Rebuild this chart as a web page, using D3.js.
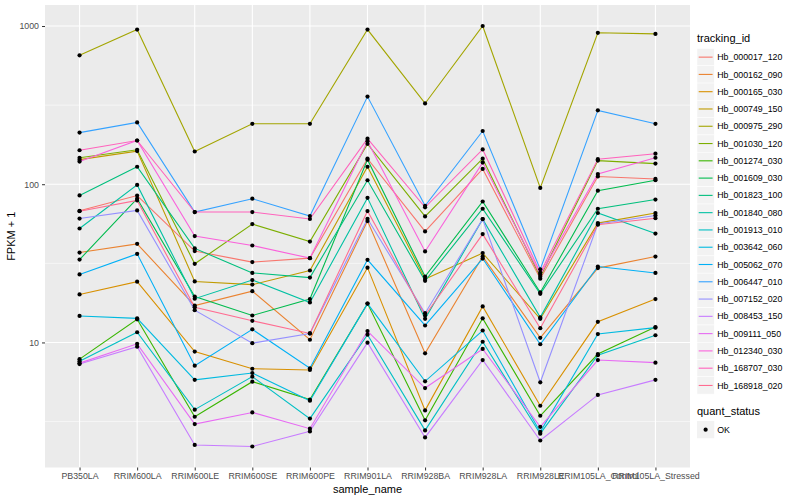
<!DOCTYPE html>
<html>
<head>
    <meta charset="UTF-8">
    <script src="https://d3js.org/d3.v7.min.js"></script>
    <style>
        body { margin: 0; background: #fff; }
        svg text { font-family: "Liberation Sans", Arial, sans-serif; }
    </style>
</head>
<body>
    <svg></svg>
    <script>
        let width = 800, height = 500;

        // categories along x
        const samples = ["PB350LA", "RRIM600LA", "RRIM600LE", "RRIM600SE", "RRIM600PE", "RRIM901LA",
            "RRIM928BA", "RRIM928LA", "RRIM928LE", "RRIM105LA_Control", "RRIM105LA_Stressed"];

        const trackingIds = ["Hb_000017_120", "Hb_000162_090", "Hb_000165_030", "Hb_000749_150", "Hb_000975_290",
            "Hb_001030_120", "Hb_001274_030", "Hb_001609_030", "Hb_001823_100", "Hb_001840_080",
            "Hb_001913_010", "Hb_003642_060", "Hb_005062_070", "Hb_006447_010", "Hb_007152_020",
            "Hb_008453_150", "Hb_009111_050", "Hb_012340_030", "Hb_168707_030", "Hb_168918_020"];

        // FPKM + 1, one value per sample
        const hb_000017_120 = [67.9, 84.8, 37.8, 32.2, 34.1, 145, 50.3, 125, 25.3, 112, 108];
        const hb_000162_090 = [37, 42, 17.1, 21.1, 10.4, 58.5, 8.54, 34.9, 10.7, 29.5, 34.9];
        const hb_000165_030 = [20.1, 24.2, 8.75, 6.82, 6.7, 29.7, 3.72, 16.9, 3.98, 13.5, 18.8];
        const hb_000749_150 = [143, 162, 24.3, 23.2, 28.5, 129, 25.2, 36.7, 14.1, 56.8, 65.8];
        const hb_000975_290 = [653, 950, 161, 241, 241, 950, 324, 1000, 94.7, 906, 892];
        const hb_001030_120 = [147, 165, 31.4, 56, 43.4, 180, 62.6, 145, 26, 141, 135];
        const hb_001274_030 = [7.84, 14, 3.39, 5.65, 4.35, 17.6, 3.22, 14.2, 3.44, 8.45, 12.5];
        const hb_001609_030 = [33.4, 81, 19.5, 14.8, 18.8, 143, 26.1, 77.8, 20.7, 91, 106];
        const hb_001823_100 = [85, 129, 39.3, 27.5, 25.7, 106, 24.5, 70, 20.3, 70, 80];
        const hb_001840_080 = [52.5, 99, 18.9, 24.8, 17.9, 82, 14.1, 60.2, 14.4, 65.8, 48.8];
        const hb_001913_010 = [7.6, 11.6, 3.76, 6.08, 3.3, 11.2, 2.78, 10.1, 2.65, 8.3, 11.1];
        const hb_003642_060 = [14.7, 14.2, 5.8, 6.41, 4.28, 17.6, 5.68, 11.9, 2.72, 11.3, 12.4];
        const hb_005062_070 = [26.9, 36.3, 7.13, 12.1, 6.87, 33.3, 12.8, 33.9, 9.74, 30.2, 27.5];
        const hb_006447_010 = [212, 246, 66.7, 81, 63, 358, 73, 217, 29, 293, 241];
        const hb_007152_020 = [60.7, 68.3, 16, 9.9, 11.4, 60.5, 15.3, 60.2, 5.6, 56, 63.5];
        const hb_008453_150 = [7.3, 9.4, 2.25, 2.2, 2.74, 9.97, 2.51, 7.74, 2.4, 4.66, 5.8];
        const hb_009111_050 = [7.4, 9.8, 3.05, 3.61, 2.85, 11.8, 5.15, 9.1, 2.93, 7.74, 7.45];
        const hb_012340_030 = [139, 189, 47, 41, 34.1, 187, 37.6, 137, 26.8, 116, 147];
        const hb_168707_030 = [164, 189, 66.7, 66.7, 60.3, 194, 71.5, 166, 27.6, 144, 156];
        const hb_168918_020 = [67.5, 79, 16.7, 13.7, 11.4, 67.7, 14.8, 48.4, 12.3, 55.5, 61];

        const seriesValues = [hb_000017_120, hb_000162_090, hb_000165_030, hb_000749_150, hb_000975_290,
            hb_001030_120, hb_001274_030, hb_001609_030, hb_001823_100, hb_001840_080,
            hb_001913_010, hb_003642_060, hb_005062_070, hb_006447_010, hb_007152_020,
            hb_008453_150, hb_009111_050, hb_012340_030, hb_168707_030, hb_168918_020];

        const yTicks = [10, 100, 1000];
        const yMinor = [3.16227766, 31.6227766, 316.227766];
        const quantStatus = ["OK"];

        // ggplot default hue palette, 20 levels
        const palette = ["#F8766D", "#EA8331", "#D89000", "#C09B00", "#A3A500", "#7CAE00", "#39B600", "#00BB4E",
            "#00BF7D", "#00C1A3", "#00BFC4", "#00BAE0", "#00B0F6", "#35A2FF", "#9590FF", "#C77CFF",
            "#E76BF3", "#FA62DB", "#FF62BC", "#FF6C91"];

        let svg = d3.select("svg")
            .attr("width", width)
            .attr("height", height);

        let panel = { left: 45, right: 690, top: 5, bottom: 467.5 };

        let x = d3.scalePoint()
            .domain(samples)
            .range([panel.left, panel.right])
            .padding(0.6);

        let all = seriesValues.flat();
        let lo = Math.log10(d3.min(all)), hi = Math.log10(d3.max(all));
        let pad = (hi - lo) * 0.05;
        let y = d3.scaleLog()
            .domain([Math.pow(10, lo - pad), Math.pow(10, hi + pad)])
            .range([panel.bottom, panel.top]);

        let color = d3.scaleOrdinal().domain(trackingIds).range(palette);

        // panel background + grid
        svg.append("rect")
            .attr("x", panel.left).attr("y", panel.top)
            .attr("width", panel.right - panel.left).attr("height", panel.bottom - panel.top)
            .attr("fill", "#EBEBEB");

        svg.append("g").selectAll("line")
            .data(yMinor)
            .join("line")
            .attr("x1", panel.left).attr("x2", panel.right)
            .attr("y1", d => y(d)).attr("y2", d => y(d))
            .attr("stroke", "#fff").attr("stroke-width", 0.55);

        svg.append("g").selectAll("line")
            .data(yTicks)
            .join("line")
            .attr("x1", panel.left).attr("x2", panel.right)
            .attr("y1", d => y(d)).attr("y2", d => y(d))
            .attr("stroke", "#fff").attr("stroke-width", 1.1);

        svg.append("g").selectAll("line")
            .data(samples)
            .join("line")
            .attr("x1", d => x(d)).attr("x2", d => x(d))
            .attr("y1", panel.top).attr("y2", panel.bottom)
            .attr("stroke", "#fff").attr("stroke-width", 1.1);

        // axes
        let yAxis = d3.axisLeft(y).tickValues(yTicks).tickFormat(d3.format("d")).tickSize(3).tickPadding(3);
        let gy = svg.append("g").attr("transform", "translate(" + panel.left + ",0)").call(yAxis);
        let xAxis = d3.axisBottom(x).tickSize(3).tickPadding(2);
        let gx = svg.append("g").attr("transform", "translate(0," + panel.bottom + ")").call(xAxis);
        [gx, gy].forEach(g => {
            g.select(".domain").remove();
            g.selectAll(".tick line").attr("stroke", "#333").attr("stroke-width", 1);
            g.selectAll(".tick text").attr("fill", "#4D4D4D").style("font-size", "8.8px");
        });

        svg.append("text")
            .attr("x", (panel.left + panel.right) / 2).attr("y", 493)
            .attr("text-anchor", "middle")
            .style("font-size", "11px")
            .text("sample_name");

        svg.append("text")
            .attr("transform", "translate(15," + ((panel.top + panel.bottom) / 2) + ") rotate(-90)")
            .attr("text-anchor", "middle")
            .style("font-size", "11px")
            .text("FPKM + 1");

        // lines
        let line = d3.line()
            .x((d, i) => x(samples[i]))
            .y(d => y(d));

        svg.append("g").selectAll("path")
            .data(seriesValues)
            .join("path")
            .attr("d", d => line(d))
            .attr("fill", "none")
            .attr("stroke", (d, i) => color(trackingIds[i]))
            .attr("stroke-width", 1.1);

        // points
        svg.append("g").selectAll("g")
            .data(seriesValues)
            .join("g")
            .selectAll("circle")
            .data(d => d)
            .join("circle")
            .attr("cx", (d, i) => x(samples[i]))
            .attr("cy", d => y(d))
            .attr("r", 2.1)
            .attr("fill", "black");

        // legend: tracking_id
        let legX = 697, legTop = 48.5, keySize = 17.28;
        svg.append("text")
            .attr("x", legX).attr("y", 42)
            .style("font-size", "11px")
            .text("tracking_id");

        let leg = svg.append("g").selectAll("g")
            .data(trackingIds)
            .join("g")
            .attr("transform", (d, i) => "translate(" + legX + "," + (legTop + i * keySize) + ")");
        leg.append("rect")
            .attr("width", keySize).attr("height", keySize)
            .attr("fill", "#F2F2F2").attr("stroke", "#fff").attr("stroke-width", 0.5);
        leg.append("line")
            .attr("x1", 1.7).attr("x2", keySize - 1.7)
            .attr("y1", keySize / 2).attr("y2", keySize / 2)
            .attr("stroke", d => color(d)).attr("stroke-width", 1.1);
        leg.append("text")
            .attr("x", keySize + 3).attr("y", keySize / 2 + 3.1)
            .style("font-size", "8.8px")
            .text(d => d);

        // legend: quant_status
        svg.append("text")
            .attr("x", legX).attr("y", 415)
            .style("font-size", "11px")
            .text("quant_status");

        let leg2 = svg.append("g").selectAll("g")
            .data(quantStatus)
            .join("g")
            .attr("transform", "translate(" + legX + ",421)");
        leg2.append("rect")
            .attr("width", keySize).attr("height", keySize)
            .attr("fill", "#F2F2F2");
        leg2.append("circle")
            .attr("cx", keySize / 2).attr("cy", keySize / 2).attr("r", 2.1)
            .attr("fill", "black");
        leg2.append("text")
            .attr("x", keySize + 3).attr("y", keySize / 2 + 3.1)
            .style("font-size", "8.8px")
            .text(d => d);
    </script>
</body>
</html>
